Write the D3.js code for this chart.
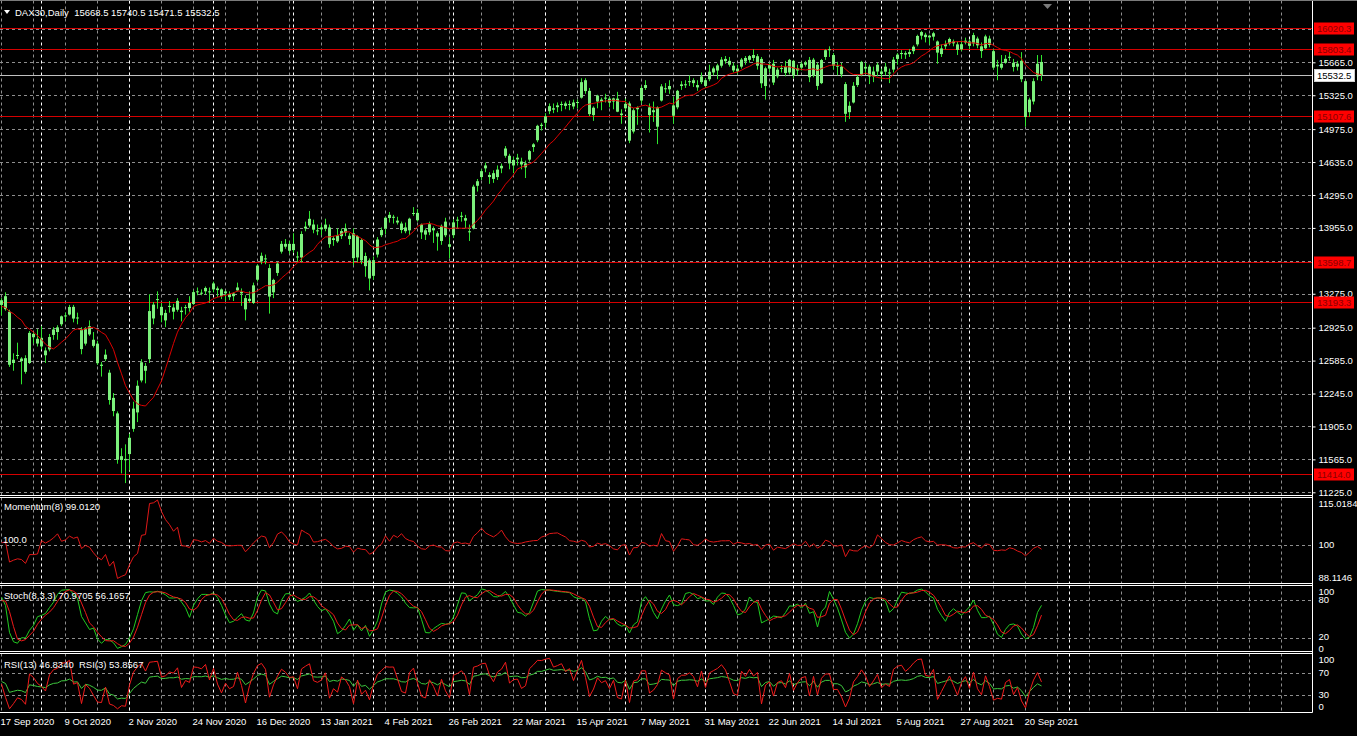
<!DOCTYPE html>
<html><head><meta charset="utf-8">
<script src="https://cdn.jsdelivr.net/npm/d3@7"></script>
<style>
html,body{margin:0;padding:0;background:#000;overflow:hidden}
svg{display:block}
text{font-family:"Liberation Sans",Arial,sans-serif;font-size:9.5px;white-space:pre}
</style></head><body>
<svg id="c" width="1357" height="736"></svg>
<script>
// ---------------- DATA ----------------
const symbolTitle = "DAX30,Daily  15668.5 15740.5 15471.5 15532.5";
const warmupBars = 21; // bars before the first visible one (Aug 19 - Sep 16 2020), used only by indicators

const openPrices = [
  13035,12977,12840,12860,13060,13060,13220,13100,13040,12930,12990,13290,12990,12880,13080,12990,13240,13180,13240,13200,13220,
  13160,13250,13090,12560,12640,12580,12610,12560,12860,12810,
  12820,12640,12700,12850,12880,12960,13050,13060,13140,13030,12900,12760,12940,12800,12760,12530,12600,12460,12200,12040,11560,11570,
  11620,11880,12050,12380,12530,12600,13020,13220,13140,13000,13150,13090,13110,13100,13130,13180,13170,13300,13280,13300,13300,
  13320,13330,13320,13280,13240,13250,13310,13280,13230,13200,13180,13420,13610,13640,13540,13290,13490,13710,13790,13790,
  13790,13660,13650,13950,13980,13990,13930,13960,13950,13960,13830,13880,13870,13950,13840,13900,13650,13830,13560,13620,
  13460,13680,13880,13950,14090,14070,14030,14000,13960,13930,14100,14110,13990,13930,13910,13930,13900,13820,14020,13760,
  13880,14040,14070,14030,13910,13950,14390,14480,14600,14480,14520,14480,14570,14700,14700,14600,14680,14640,14580,14660,14790,14860,15020,
  15040,15160,15190,15220,15230,15240,15230,15250,15250,15300,15480,15370,15120,15260,15260,15300,15290,15260,15290,15120,
  15190,15240,14950,15180,15270,15430,15200,15170,15000,15270,15390,15420,15220,15200,15420,15430,15470,15480,15430,15460,15480,
  15490,15560,15580,15630,15700,15680,15630,15600,15620,15710,15690,15740,15630,15700,15420,15600,15650,15520,15600,15620,15560,15680,
  15580,15610,15640,15690,15530,15640,15450,15720,15800,15740,15630,15620,15440,15150,15250,15430,15530,15600,15620,15520,15570,15570,
  15620,15560,15590,15700,15750,15760,15750,15780,15850,15940,15950,15940,15930,15880,15750,15830,15860,15880,15850,15800,15870,15880,
  15860,15910,15830,15810,15910,15780,15640,15650,15660,15720,15660,15620,15680,15470,15150,15260,15520,15668.5
];
const highPrices = [
  13060,13000,12900,13090,13110,13200,13250,13150,13080,13010,13260,13460,13030,13120,13150,13260,13300,13250,13300,13260,13290,
  13230,13290,13110,12660,12770,12620,12640,12890,12880,12910,
  12940,12720,12860,12930,12950,13050,13080,13160,13160,13080,12930,12930,13000,12880,12790,12570,12700,12490,12250,12060,11680,11720,
  11830,12160,12380,12600,12560,13270,13190,13300,13180,13110,13200,13170,13230,13140,13160,13250,13310,13340,13320,13350,13340,
  13400,13350,13330,13310,13300,13290,13390,13330,13260,13300,13390,13580,13700,13680,13580,13430,13600,13820,13840,13820,
  13900,13710,13920,14020,14130,14040,13990,13990,14050,13990,13870,13950,13950,14000,13900,13950,13880,13850,13700,13640,
  13660,13860,13960,14070,14120,14090,14070,14020,14010,14060,14170,14150,14000,13950,14020,13970,13920,13990,14060,13860,
  14040,14070,14120,14090,13990,14400,14460,14560,14630,14530,14550,14600,14620,14800,14720,14690,14720,14680,14650,14760,14830,15020,15040,
  15140,15240,15240,15250,15260,15260,15270,15280,15280,15500,15500,15400,15210,15330,15300,15340,15310,15300,15360,15180,
  15290,15260,15190,15210,15420,15480,15240,15260,15210,15440,15450,15480,15310,15380,15470,15480,15530,15500,15480,15560,15500,
  15640,15620,15650,15720,15730,15720,15660,15640,15710,15730,15740,15800,15750,15720,15620,15660,15690,15610,15640,15680,15700,15690,
  15640,15670,15680,15720,15710,15660,15700,15800,15830,15760,15670,15660,15460,15260,15460,15540,15680,15660,15640,15620,15660,15600,
  15660,15600,15720,15760,15790,15780,15800,15840,15950,15990,15970,15950,15980,15890,15850,15890,15920,15900,15880,15890,15920,15900,
  15970,15930,15870,15950,15940,15800,15690,15740,15740,15770,15700,15680,15770,15480,15300,15500,15740,15740.5
];
const lowPrices = [
  12930,12720,12700,12850,13020,13000,13040,12950,12920,12810,12980,13040,12660,12860,12950,12970,13150,13090,13180,13100,13200,
  13050,13100,12520,12480,12600,12340,12450,12550,12760,12730,
  12700,12560,12680,12800,12800,12940,12990,13050,12980,12960,12650,12740,12840,12720,12540,12420,12580,12130,12010,11520,11420,11320,
  11450,11850,11950,12360,12350,12560,12960,13120,12980,12930,13080,13010,13090,12990,13060,13090,13160,13260,13260,13270,13180,
  13290,13240,13220,13200,13210,13200,13300,13150,13000,13180,13170,13400,13580,13580,13070,13230,13460,13690,13740,13690,
  13700,13600,13600,13920,13960,13900,13880,13880,13920,13750,13770,13800,13840,13870,13780,13570,13600,13580,13450,13310,
  13420,13650,13860,13890,14010,14000,13990,13900,13900,13880,14080,14020,13840,13830,13880,13800,13720,13780,13860,13640,
  13850,13950,14020,13950,13820,13940,14330,14450,14530,14410,14420,14450,14520,14680,14560,14520,14600,14560,14470,14640,14740,14840,14960,
  14990,15130,15140,15150,15160,15180,15170,15180,15190,15290,15340,15110,15060,15190,15170,15250,15200,15180,15150,15030,
  15170,14830,14930,15020,15240,15380,14940,15050,14820,15260,15350,15340,15030,15180,15380,15400,15420,15410,15370,15440,15400,
  15470,15530,15490,15610,15650,15620,15560,15540,15600,15640,15660,15680,15590,15400,15280,15560,15430,15500,15560,15520,15540,15500,
  15530,15580,15620,15460,15510,15380,15440,15690,15720,15590,15530,15510,15050,15080,15240,15410,15520,15540,15440,15460,15520,15480,
  15530,15450,15560,15640,15700,15700,15720,15750,15830,15900,15870,15850,15890,15650,15720,15800,15840,15830,15740,15780,15850,15800,
  15830,15810,15710,15800,15820,15590,15480,15590,15650,15680,15570,15580,15460,15000,15100,15230,15480,15471.5
];
const closePrices = [
  12977,12830,12765,13067,13062,13190,13096,13033,12945,12974,13243,13057,12842,13100,12968,13237,13209,13202,13194,13218,13255,
  13208,13116,12542,12594,12643,12606,12469,12871,12826,12761,
  12731,12689,12828,12906,12928,13042,13051,13138,13019,13029,12704,12909,12855,12737,12558,12543,12646,12178,12064,11561,11598,11556,
  11788,12089,12325,12568,12480,13096,13163,13217,13053,13077,13139,13133,13202,13086,13137,13127,13292,13290,13286,13335,13291,
  13382,13313,13253,13299,13271,13278,13340,13296,13114,13223,13362,13566,13667,13631,13246,13418,13587,13790,13761,13719,
  13726,13651,13892,13968,14049,13937,13925,13940,13989,13787,13848,13816,13922,13906,13874,13643,13871,13620,13665,13433,
  13622,13835,13933,14060,14057,14060,14011,13933,13921,14050,14109,14034,13909,13886,13993,13950,13865,13976,13879,13786,
  14012,14040,14080,14056,13920,14381,14437,14541,14570,14502,14461,14557,14596,14775,14621,14657,14662,14610,14621,14748,14818,15009,15008,
  15107,15212,15176,15202,15234,15215,15234,15209,15255,15460,15368,15130,15196,15321,15280,15296,15249,15292,15155,15136,
  15236,14856,15170,15197,15400,15400,15120,15150,15200,15416,15397,15386,15113,15370,15437,15438,15465,15450,15406,15519,15421,
  15568,15602,15633,15693,15677,15640,15581,15571,15693,15674,15729,15710,15728,15448,15603,15636,15456,15589,15607,15554,15690,15531,
  15603,15650,15661,15511,15692,15421,15688,15790,15790,15629,15630,15540,15133,15216,15422,15514,15669,15618,15519,15570,15640,15544,
  15568,15555,15692,15744,15761,15745,15770,15826,15937,15977,15925,15922,15965,15765,15808,15852,15906,15861,15793,15852,15888,15835,
  15946,15840,15781,15932,15844,15610,15623,15609,15701,15722,15616,15651,15490,15100,15280,15470,15650,15532.5
];

// time axis labels (one every 16 bars) and monthly period separators (bar index)
const dateLabels = ["17 Sep 2020","9 Oct 2020","2 Nov 2020","24 Nov 2020","16 Dec 2020","13 Jan 2021","4 Feb 2021",
  "26 Feb 2021","22 Mar 2021","15 Apr 2021","7 May 2021","31 May 2021","22 Jun 2021","14 Jul 2021","5 Aug 2021",
  "27 Aug 2021","20 Sep 2021"];
const labelEvery = 16;
const gridEvery = 8;
const periodSeparators = [10,32,53,73,93,113,136,156,176,198,220,242,267];

// price scale ticks
const priceTicks = [16005,15665,15325,14975,14635,14295,13955,13615,13275,12925,12585,12245,11905,11565,11225];
const priceTickLabels = [15665,15325,14975,14635,14295,13955,13275,12925,12585,12245,11905,11565,11225];
const levelLines = [16020.3,15803.4,15107.6,13598.7,13193.3,11414.0];
const currentPrice = 15532.5;

// indicator settings and panel scales shown in the picture
const maPeriod = 12, momPeriod = 8, stochK = 8, stochSlow = 3, stochD = 3, rsiLong = 13, rsiShort = 3;
const momRange = [88.1146, 115.0184];
const momTicks = [115.0184, 100, 88.1146];
const stochLevels = [80, 20], stochTicks = [100, 80, 20, 0];
const rsiLevels = [70, 30], rsiTicks = [100, 70, 30, 0];

// ---------------- CHECK ----------------
const nAll = closePrices.length;
if (openPrices.length!==nAll||highPrices.length!==nAll||lowPrices.length!==nAll) throw new Error("length mismatch "+[openPrices.length,highPrices.length,lowPrices.length,nAll]);

// ---------------- INDICATORS (standard definitions applied to the price arrays) ----------------
function smaOf(arr,n){return arr.map((v,k)=>{if(k<n-1)return null;let s=0,c=0;for(let j=k-n+1;j<=k;j++){if(arr[j]==null)return null;s+=arr[j];c++;}return s/c;});}
const maVals = smaOf(closePrices, maPeriod);
const momVals = closePrices.map((c,k)=>k>=momPeriod? c/closePrices[k-momPeriod]*100 : null);
const ll = closePrices.map((c,k)=>k>=stochK-1? d3.min(lowPrices.slice(k-stochK+1,k+1)) : null);
const hh = closePrices.map((c,k)=>k>=stochK-1? d3.max(highPrices.slice(k-stochK+1,k+1)) : null);
const stochMain = closePrices.map((c,k)=>{
  if(k<stochK-1+stochSlow-1) return null; let a=0,b=0;
  for(let j=k-stochSlow+1;j<=k;j++){a+=closePrices[j]-ll[j];b+=hh[j]-ll[j];}
  return b===0?100:a/b*100;});
const stochSignal = smaOf(stochMain, stochD);
function rsiOf(arr,n){
  const out=arr.map(()=>null); let ag=0,al=0;
  for(let k=1;k<arr.length;k++){
    const ch=arr[k]-arr[k-1], g=Math.max(ch,0), l=Math.max(-ch,0);
    if(k<=n){ag+=g/n;al+=l/n; if(k===n) out[k]=al===0?100:100-100/(1+ag/al);}
    else {ag=(ag*(n-1)+g)/n; al=(al*(n-1)+l)/n; out[k]=al===0?100:100-100/(1+ag/al);}
  }
  return out;}
const rsiL = rsiOf(closePrices, rsiLong);
const rsiS = rsiOf(closePrices, rsiShort);

// ---------------- LAYOUT ----------------
const svg = d3.select("#c");
const plotRight = 1312.5;
const panels = {
  main:{top:0.5,bottom:495.5},
  mom:{top:497.5,bottom:583.5},
  stoch:{top:585.5,bottom:651.5},
  rsi:{top:653.5,bottom:712.5}
};
const barCount = 328;
const x = d3.scaleLinear().domain([0, barCount]).range([1.5, 1.5 + 4*barCount]);
const yMain = d3.scaleLinear().domain([11225, 15665]).range([492.3, 62.3]);
const yMom = d3.scaleLinear().domain(momRange).range([583, 498]);
const yStoch = d3.scaleLinear().domain([0,100]).range([651.1, 587.2]);
const yRsi = d3.scaleLinear().domain([0,100]).range([711.3, 657]);
const visible = d3.range(warmupBars, nAll);
const vi = k => k - warmupBars;

svg.append("rect").attr("width",1357).attr("height",736).attr("fill","#000");
const defs = svg.append("defs");
Object.entries(panels).forEach(([k,p])=>{
  defs.append("clipPath").attr("id","clip-"+k).append("rect")
    .attr("x",0).attr("y",p.top).attr("width",plotRight).attr("height",p.bottom-p.top);
});

const GRID="#8e8e8e";
// vertical grid + separators in every panel
Object.entries(panels).forEach(([k,p])=>{
  const g = svg.append("g").attr("clip-path",`url(#clip-${k})`);
  g.selectAll("line.vg").data(d3.range(0, barCount, gridEvery)).join("line")
    .attr("x1",d=>Math.floor(x(d))+0.5).attr("x2",d=>Math.floor(x(d))+0.5)
    .attr("y1",p.top).attr("y2",p.bottom).attr("stroke",GRID).attr("stroke-dasharray","3,3");
  g.selectAll("line.ps").data(periodSeparators).join("line")
    .attr("x1",d=>Math.floor(x(d))+0.5).attr("x2",d=>Math.floor(x(d))+0.5)
    .attr("y1",p.top).attr("y2",p.bottom).attr("stroke","#ffffff").attr("stroke-dasharray","3,3");
});

function hGrid(panelKey, vals, scale){
  const g = svg.append("g").attr("clip-path",`url(#clip-${panelKey})`);
  g.selectAll("line").data(vals).join("line")
    .attr("x1",0).attr("x2",plotRight)
    .attr("y1",d=>Math.round(scale(d))+0.5).attr("y2",d=>Math.round(scale(d))+0.5)
    .attr("stroke",GRID).attr("stroke-dasharray","3,3");
}
hGrid("main", priceTicks, yMain);
hGrid("mom", [100], yMom);
hGrid("stoch", stochLevels, yStoch);
hGrid("rsi", rsiLevels, yRsi);

// ---------------- MAIN PANEL ----------------
const gMain = svg.append("g").attr("clip-path","url(#clip-main)");
gMain.selectAll("line.lvl").data(levelLines).join("line")
  .attr("x1",0).attr("x2",plotRight)
  .attr("y1",d=>Math.round(yMain(d))+0.5).attr("y2",d=>Math.round(yMain(d))+0.5)
  .attr("stroke","#d50000").attr("stroke-width",1);
gMain.append("line").attr("x1",0).attr("x2",plotRight)
  .attr("y1",Math.round(yMain(currentPrice))+0.5).attr("y2",Math.round(yMain(currentPrice))+0.5)
  .attr("stroke","#c0c0c0");

const candles = gMain.selectAll("g.c").data(visible).join("g");
candles.append("line")
  .attr("x1",k=>Math.floor(x(vi(k)))+0.5).attr("x2",k=>Math.floor(x(vi(k)))+0.5)
  .attr("y1",k=>yMain(highPrices[k])).attr("y2",k=>yMain(lowPrices[k]))
  .attr("stroke","#2fe62f");
candles.append("rect")
  .attr("x",k=>Math.floor(x(vi(k)))-1).attr("width",3)
  .attr("y",k=>yMain(Math.max(openPrices[k],closePrices[k])))
  .attr("height",k=>Math.max(1, yMain(Math.min(openPrices[k],closePrices[k]))-yMain(Math.max(openPrices[k],closePrices[k]))))
  .attr("fill","#7cf07c");

const lineGen = (scale, arr) => d3.line().defined(k=>arr[k]!=null).x(k=>x(vi(k))).y(k=>scale(arr[k]));
gMain.append("path").datum(visible).attr("d",lineGen(yMain,maVals)).attr("fill","none").attr("stroke","#dd0000").attr("stroke-width",1);

// ---------------- INDICATOR PANELS ----------------
const gMom = svg.append("g").attr("clip-path","url(#clip-mom)");
gMom.append("path").datum(visible).attr("d",lineGen(yMom,momVals)).attr("fill","none").attr("stroke","#e01818");
const gSt = svg.append("g").attr("clip-path","url(#clip-stoch)");
gSt.append("path").datum(visible).attr("d",lineGen(yStoch,stochMain)).attr("fill","none").attr("stroke","#22cc22");
gSt.append("path").datum(visible).attr("d",lineGen(yStoch,stochSignal)).attr("fill","none").attr("stroke","#ee1a1a");
const gR = svg.append("g").attr("clip-path","url(#clip-rsi)");
gR.append("path").datum(visible).attr("d",lineGen(yRsi,rsiL)).attr("fill","none").attr("stroke","#3ec83e");
gR.append("path").datum(visible).attr("d",lineGen(yRsi,rsiS)).attr("fill","none").attr("stroke","#f01c1c");

// ---------------- BORDERS ----------------
const borders = svg.append("g").attr("stroke","#ffffff").attr("stroke-width",1);
Object.values(panels).forEach(p=>{
  borders.append("line").attr("x1",0).attr("x2",plotRight).attr("y1",p.bottom).attr("y2",p.bottom);
  if(p.top>1) borders.append("line").attr("x1",0).attr("x2",plotRight).attr("y1",p.top).attr("y2",p.top);
});
svg.append("line").attr("x1",0).attr("x2",1357).attr("y1",0.5).attr("y2",0.5).attr("stroke","#7a7a7a");
borders.append("line").attr("x1",plotRight).attr("x2",plotRight).attr("y1",0.5).attr("y2",panels.rsi.bottom);

// ---------------- AXES ----------------
function styleAxis(g){
  g.select(".domain").remove();
  g.selectAll(".tick line").attr("stroke","#ffffff");
  g.selectAll(".tick text").attr("fill","#ffffff").attr("font-family","Liberation Sans, Arial, sans-serif").attr("font-size","9.5px");
}
const axMain = svg.append("g").attr("transform",`translate(${plotRight},0)`)
  .call(d3.axisRight(yMain).tickValues(priceTickLabels).tickFormat(d3.format(".1f")).tickSize(3).tickPadding(3));
styleAxis(axMain);

function indicatorAxis(scale, ticks, fmt, p, topPad, botPad){
  const g = svg.append("g").attr("transform",`translate(${plotRight},0)`)
    .call(d3.axisRight(scale).tickValues(ticks).tickFormat(fmt).tickSize(0).tickPadding(6));
  styleAxis(g);
  g.selectAll(".tick").attr("transform",d=>`translate(0,${Math.max(p.top+topPad, Math.min(p.bottom-botPad, scale(d)))})`);
  return g;
}
indicatorAxis(yMom, momTicks, d=>d===100?"100":d3.format(".4f")(d), panels.mom, 6, 6);
const axSt = indicatorAxis(yStoch, stochTicks, d3.format("d"), panels.stoch, 6, 3);
axSt.selectAll(".tick").filter(d=>d===20).attr("transform",`translate(0,${yStoch(20)-1.5})`);
indicatorAxis(yRsi, rsiTicks, d3.format("d"), panels.rsi, 6, 6);

const labelBars = dateLabels.map((d,i)=>i*labelEvery);
const axTime = svg.append("g").attr("transform",`translate(0,${panels.rsi.bottom})`)
  .call(d3.axisBottom(x).tickValues(labelBars).tickFormat((d,i)=>dateLabels[i]).tickSize(0).tickPadding(6));
styleAxis(axTime);
axTime.selectAll(".tick text").attr("text-anchor","start").attr("dx","-1.5");

// price level tags on the right
const tags = svg.append("g");
levelLines.forEach(v=>{
  const yy = Math.round(yMain(v))+0.5;
  tags.append("rect").attr("x",1314).attr("y",yy-6).attr("width",40).attr("height",12).attr("fill","#ff0000");
  tags.append("text").attr("x",1317).attr("y",yy).attr("dy","0.35em").attr("fill","#8a0000").text(d3.format(".1f")(v));
});
{
  const yy = Math.round(yMain(currentPrice))+0.5;
  tags.append("rect").attr("x",1314.5).attr("y",yy-6).attr("width",40).attr("height",12).attr("fill","#ffffff").attr("stroke","#cfcfcf");
  tags.append("text").attr("x",1317).attr("y",yy).attr("dy","0.35em").attr("fill","#000").text(d3.format(".1f")(currentPrice));
}

// ---------------- TITLES ----------------
svg.append("path").attr("d","M4,10L10,10L7,14Z").attr("fill","#ffffff");
svg.append("text").attr("x",15).attr("y",15.5).attr("fill","#ffffff").text(symbolTitle);
svg.append("path").attr("d","M1043,4L1052,4L1047.5,9Z").attr("fill","#7a7a7a");
svg.append("text").attr("x",4).attr("y",510).attr("fill","#ffffff").text("Momentum(8) 99.0120");
svg.append("text").attr("x",3).attr("y",Math.round(yMom(100))-2).attr("fill","#ffffff").text("100.0");
svg.append("text").attr("x",4).attr("y",598.5).attr("fill","#ffffff").text("Stoch(8,3,3) 70.9705 56.1657");
svg.append("text").attr("x",4).attr("y",667.5).attr("fill","#ffffff").text("RSI(13) 46.8340  RSI(3) 53.8567");
</script>
</body></html>
